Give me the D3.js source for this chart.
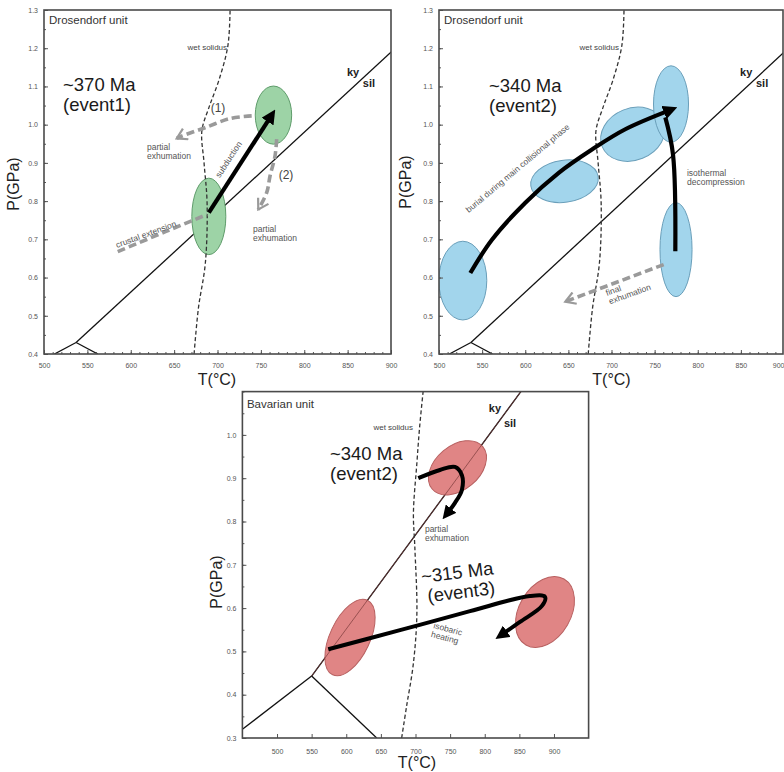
<!DOCTYPE html>
<html><head><meta charset="utf-8">
<script src="https://cdn.jsdelivr.net/npm/d3@7"></script>
<style>body{margin:0;background:#fff}svg{display:block;font-family:"Liberation Sans",Arial,Helvetica,sans-serif}</style>
</head><body><svg id="chart" width="784" height="772"></svg>
<script>
// ---------------- DATA ----------------
const drosTempTicks = [500,550,600,650,700,750,800,850,900];
const drosPressTicks = [0.4,0.5,0.6,0.7,0.8,0.9,1.0,1.1,1.2,1.3];
const bavTempTicks = [500,550,600,650,700,750,800,850,900];
const bavPressTicks = [0.3,0.4,0.5,0.6,0.7,0.8,0.9,1.0];

// wet solidus [T(°C), P(GPa)]
const drosSolidus = [[673,0.40],[678,0.52],[686,0.638],[688,0.795],[684.5,0.90],[682,0.984],[690,1.044],[702,1.119],[712,1.207],[714.5,1.30]];
const bavSolidus = [[680,0.30],[687,0.372],[697,0.473],[702,0.588],[699,0.742],[697,0.819],[702,0.935],[706,1.019],[711,1.10]];

// Al2SiO5 reactions
const drosKySil = [[537,0.43],[905,1.20]];
const drosKyAnd = [[537,0.43],[512,0.40]];
const drosAndSil = [[537,0.43],[562,0.40]];
const bavKySil = [[550,0.443],[860,1.117]];
const bavKyAnd = [[550,0.443],[450,0.32]];
const bavAndSil = [[550,0.443],[644,0.30]];

// P-T ellipses [T, P, halfT, halfP]
const event1Ellipses = [[690,0.76,19.6,0.100],[764.5,1.025,21,0.076]];
const event2DrosEllipses = [[527.6,0.592,27.8,0.103],[645.5,0.852,39.4,0.055],[724.7,0.975,38.3,0.068],[769,1.054,20.3,0.100],[774.8,0.673,18.6,0.123]];
const event2DrosTilt = [0,-8,-22,0,0];
const bavEllipses = [[760.6,0.924,47.7,0.051],[605.4,0.532,28.9,0.095],[887,0.591,37.5,0.088]];
const bavTilt = [-40,25,30];

// P-T paths
const subductionPath = [[690,0.77],[763,1.027]];
const crustalExtensionPath = [[585,0.668],[640,0.72],[688,0.765]];
const exhumation1Path = [[739.4,1.023],[714.4,1.016],[685.6,0.992],[658.7,0.97],[653,0.964]];
const exhumation2Path = [[768.2,0.962],[766.3,0.918],[760.5,0.865],[756.7,0.822],[747,0.778]];
const burialPath = [[536.3,0.612],[561.4,0.699],[600.1,0.796],[638.8,0.874],[677.4,0.935],[716,0.988],[770.1,1.04]];
const decompressionPath = [[762.4,1.019],[771.3,0.922],[774,0.669]];
const finalExhumationPath = [[760.5,0.634],[646.4,0.537]];
const bavEvent2Path = [[704,0.90],[735.3,0.919],[757,0.926],[767,0.907],[767,0.873],[757,0.843],[744,0.815]];
const bavEvent3Path = [[574,0.505],[677.6,0.549],[778.7,0.593],[865.3,0.628],[887,0.626],[882.6,0.605],[850.9,0.568],[822,0.536]];

// ---------------- LAYOUT ----------------
const layout = {
  p1:{left:44, right:391, rightFrame:391, top:10, bottom:354},
  p2:{left:439, right:784, rightFrame:783, top:10, bottom:354},
  p3:{left:242.4, right:588.6, rightFrame:588.6, top:391.6, bottom:738}
};

const svg = d3.select('#chart');
const defs = svg.append('defs');

const mk = defs.append('marker').attr('id','headBlack').attr('viewBox','0 0 10 10')
  .attr('refX',6).attr('refY',5).attr('markerWidth',3.4).attr('markerHeight',3.4).attr('orient','auto');
mk.append('path').attr('d','M0,0L10,5L0,10Z').attr('fill','#000');
const mg = defs.append('marker').attr('id','headGray').attr('viewBox','0 0 14 14')
  .attr('refX',12).attr('refY',7).attr('markerUnits','userSpaceOnUse')
  .attr('markerWidth',14).attr('markerHeight',14).attr('orient','auto');
mg.append('path').attr('d','M2,1L12,7L2,13').attr('fill','none').attr('stroke','#9a9a9a').attr('stroke-width',2.2);

function buildPanel(L, tDom, pDom, clipId){
  const x = d3.scaleLinear().domain(tDom).range([L.left, L.right]);
  const y = d3.scaleLinear().domain(pDom).range([L.bottom, L.top]);
  const g = svg.append('g');
  defs.append('clipPath').attr('id',clipId).append('rect')
    .attr('x',L.left).attr('y',L.top).attr('width',L.rightFrame-L.left).attr('height',L.bottom-L.top);
  const plot = g.append('g').attr('clip-path',`url(#${clipId})`);
  const line = d3.line().x(d=>x(d[0])).y(d=>y(d[1])).curve(d3.curveCatmullRom.alpha(0.5));
  return {x,y,g,plot,L,line};
}

function addAxes(P, tTicks, pTicks, tMinor, pMinor, labelPad){
  const {x,y,L,g} = P;
  const xa = g.append('g').attr('transform',`translate(0,${L.bottom})`)
    .call(d3.axisBottom(x).tickValues(tTicks).tickSize(-4).tickSizeOuter(0).tickPadding(labelPad).tickFormat(d3.format('d')));
  xa.select('.domain').remove();
  // keep a label that sits on the page edge fully visible
  xa.selectAll('.tick text').each(function(d){
    if (x(d) + 6 > 784) d3.select(this).attr('text-anchor','end');
  });
  if (tMinor) { const m = g.append('g').attr('transform',`translate(0,${L.bottom})`)
    .call(d3.axisBottom(x).tickValues(tMinor).tickSize(-2).tickSizeOuter(0).tickFormat(''));
    m.select('.domain').remove(); m.attr('color','#555'); }
  const ya = g.append('g').attr('transform',`translate(${L.left},0)`)
    .call(d3.axisLeft(y).tickValues(pTicks).tickSize(-4).tickSizeOuter(0).tickPadding(6).tickFormat(d3.format('.1f')));
  ya.select('.domain').remove();
  if (pMinor) { const m = g.append('g').attr('transform',`translate(${L.left},0)`)
    .call(d3.axisLeft(y).tickValues(pMinor).tickSize(-2).tickSizeOuter(0).tickFormat(''));
    m.select('.domain').remove(); m.attr('color','#555'); }
  [xa,ya].forEach(a=>{a.attr('color','#555').attr('font-family',null).attr('font-size',7);
    a.selectAll('text').attr('fill','#555');});
  g.append('rect').attr('x',L.left).attr('y',L.top).attr('width',L.rightFrame-L.left).attr('height',L.bottom-L.top)
    .attr('fill','none').attr('stroke','#4a4a4a').attr('stroke-width',1.6);
}

function drawReactions(P, ks, ka, as){
  [ks,ka,as].forEach(d=>P.plot.append('path').attr('d',d3.line().x(v=>P.x(v[0])).y(v=>P.y(v[1]))(d))
    .attr('fill','none').attr('stroke','#111').attr('stroke-width',1.3));
}
function drawSolidus(P, s){
  P.plot.append('path').attr('d',P.line(s)).attr('fill','none').attr('stroke','#333')
    .attr('stroke-width',1.3).attr('stroke-dasharray','4,2.5');
}
function drawEllipses(P, list, tilts, fill, stroke){
  P.plot.selectAll(null).data(list).join('ellipse')
    .attr('transform',(d,i)=>`translate(${P.x(d[0])},${P.y(d[1])}) rotate(${tilts?tilts[i]:0})`)
    .attr('rx',d=>P.x(d[0]+d[2])-P.x(d[0]))
    .attr('ry',d=>P.y(d[1]-d[3])-P.y(d[1]))
    .attr('fill',fill).attr('stroke',stroke).attr('stroke-width',1);
}
function blackArrow(P, pts, w){
  P.plot.append('path').attr('d',P.line(pts)).attr('fill','none').attr('stroke','#000')
    .attr('stroke-width',w||4).attr('marker-end','url(#headBlack)');
}
function blackLine(P, pts, w){
  P.plot.append('path').attr('d',P.line(pts)).attr('fill','none').attr('stroke','#000').attr('stroke-width',w||4);
}
function grayArrow(P, pts, head){
  const p = P.plot.append('path').attr('d',P.line(pts)).attr('fill','none').attr('stroke','#9a9a9a')
    .attr('stroke-width',3.6).attr('stroke-dasharray','8,4');
  if(head) p.attr('marker-end','url(#headGray)');
}
function label(P, T, Pv, lines, o){
  o = o||{};
  const t = P.g.append('g')
    .attr('transform',`translate(${P.x(T)},${P.y(Pv)}) rotate(${o.rot||0})`)
    .attr('font-size',o.size||9).attr('fill',o.fill||'#333')
    .attr('font-weight',o.bold?'bold':null)
    .attr('text-anchor',o.anchor||'start');
  lines.forEach((s,i)=>t.append('text').attr('x',(o.dx&&o.dx[i])||0).attr('y',i*(o.lh||9)).text(s));
  return t;
}

// ---------------- PANEL 1 ----------------
const P1 = buildPanel(layout.p1,[500,900],[0.4,1.3],'clip1');
drawReactions(P1, drosKySil, drosKyAnd, drosAndSil);
drawEllipses(P1, event1Ellipses, null, '#9dd3a6', '#5f9c6b');
drawSolidus(P1, drosSolidus);
grayArrow(P1, crustalExtensionPath, false);
grayArrow(P1, exhumation1Path, true);
grayArrow(P1, exhumation2Path, true);
blackArrow(P1, subductionPath, 4.2);
addAxes(P1, drosTempTicks, drosPressTicks, d3.range(500,901,10), d3.range(0.4,1.31,0.05), 9);
P1.g.append('text').attr('x',layout.p1.left+5).attr('y',layout.p1.top+14).attr('font-size',11.5).attr('fill','#333').text('Drosendorf unit');
label(P1, 521.9, 1.088, ['~370 Ma','(event1)'], {size:18.5, lh:20, fill:'#1a1a1a'});
label(P1, 711, 1.195, ['wet solidus'], {size:8, anchor:'end', fill:'#444'});
label(P1, 856.2, 1.127, ['ky'], {size:11, bold:true, anchor:'middle', fill:'#222'});
label(P1, 874.6, 1.099, ['sil'], {size:11, bold:true, anchor:'middle', fill:'#222'});
label(P1, 715.6, 0.905, ['subduction'], {size:8.5, rot:-57, anchor:'middle', fill:'#555'});
label(P1, 618.7, 0.706, ['crustal extension'], {size:8.5, rot:-20, anchor:'middle', fill:'#555'});
label(P1, 700.6, 1.033, ['(1)'], {size:12, anchor:'middle', fill:'#444'});
label(P1, 779, 0.858, ['(2)'], {size:12, anchor:'middle', fill:'#444'});
label(P1, 618.7, 0.934, ['partial','exhumation'], {size:8.5, fill:'#555'});
label(P1, 741, 0.719, ['partial','exhumation'], {size:8.5, fill:'#555'});
P1.g.append('text').attr('transform','translate(19,184) rotate(-90)').attr('text-anchor','middle').attr('font-size',16).attr('fill','#222').text('P(GPa)');
P1.g.append('text').attr('x',217).attr('y',385).attr('text-anchor','middle').attr('font-size',16).attr('fill','#222').text('T(°C)');

// ---------------- PANEL 2 ----------------
const P2 = buildPanel(layout.p2,[500,900],[0.4,1.3],'clip2');
drawReactions(P2, drosKySil, drosKyAnd, drosAndSil);
drawEllipses(P2, event2DrosEllipses, event2DrosTilt, '#a2d5ec', '#6a9fba');
drawSolidus(P2, drosSolidus);
grayArrow(P2, finalExhumationPath, true);
blackArrow(P2, burialPath, 4.2);
blackLine(P2, decompressionPath, 4.2);
addAxes(P2, drosTempTicks, drosPressTicks, d3.range(500,901,10), d3.range(0.4,1.31,0.05), 9);
P2.g.append('text').attr('x',layout.p2.left+5).attr('y',layout.p2.top+14).attr('font-size',11.5).attr('fill','#333').text('Drosendorf unit');
label(P2, 558, 1.085, ['~340 Ma','(event2)'], {size:18.5, lh:20, fill:'#1a1a1a'});
label(P2, 708.7, 1.195, ['wet solidus'], {size:8, anchor:'end', fill:'#444'});
label(P2, 856.2, 1.127, ['ky'], {size:11, bold:true, anchor:'middle', fill:'#222'});
label(P2, 874.6, 1.099, ['sil'], {size:11, bold:true, anchor:'middle', fill:'#222'});
label(P2, 593.3, 0.880, ['burial during main collisional phase'], {size:8.5, rot:-40, anchor:'middle', fill:'#555'});
label(P2, 787.5, 0.866, ['isothermal','decompression'], {size:8.5, fill:'#555'});
label(P2, 694.8, 0.552, ['final','exhumation'], {size:8.5, rot:-20, fill:'#555'});
P2.g.append('text').attr('transform','translate(411,182) rotate(-90)').attr('text-anchor','middle').attr('font-size',16).attr('fill','#222').text('P(GPa)');
P2.g.append('text').attr('x',611.5).attr('y',385).attr('text-anchor','middle').attr('font-size',16).attr('fill','#222').text('T(°C)');

// ---------------- PANEL 3 ----------------
const P3 = buildPanel(layout.p3,[450,950],[0.3,1.1],'clip3');
drawReactions(P3, bavKySil, bavKyAnd, bavAndSil);
drawEllipses(P3, bavEllipses, bavTilt, '#e08585', '#b86060');
P3.plot.append('path').attr('d',d3.line().x(v=>P3.x(v[0])).y(v=>P3.y(v[1]))(bavKySil))
  .attr('fill','none').attr('stroke','#7a3a3a').attr('stroke-width',1).attr('opacity',0.7);
drawSolidus(P3, bavSolidus);
blackArrow(P3, bavEvent2Path, 4);
blackArrow(P3, bavEvent3Path, 4);
addAxes(P3, bavTempTicks, bavPressTicks, null, d3.range(0.3,1.11,0.05), 11);
P3.g.append('text').attr('x',layout.p3.left+4.5).attr('y',layout.p3.top+16).attr('font-size',11.5).attr('fill','#333').text('Bavarian unit');
label(P3, 696.4, 1.011, ['wet solidus'], {size:8, anchor:'end', fill:'#444'});
label(P3, 814.8, 1.053, ['ky'], {size:11, bold:true, anchor:'middle', fill:'#222'});
label(P3, 836.5, 1.018, ['sil'], {size:11, bold:true, anchor:'middle', fill:'#222'});
label(P3, 576.5, 0.942, ['~340 Ma','(event2)'], {size:18.5, lh:20, fill:'#1a1a1a'});
label(P3, 713.6, 0.776, ['partial','exhumation'], {size:8.5, fill:'#555'});
label(P3, 709.3, 0.658, ['~315 Ma','(event3)'], {size:18.5, lh:20, rot:-7, dx:[0,4], fill:'#1a1a1a'});
label(P3, 725.2, 0.554, ['isobaric','heating'], {size:8.5, rot:15, fill:'#555'});
P3.g.append('text').attr('transform','translate(221.5,582) rotate(-90)').attr('text-anchor','middle').attr('font-size',16).attr('fill','#222').text('P(GPa)');
P3.g.append('text').attr('x',417).attr('y',768).attr('text-anchor','middle').attr('font-size',16).attr('fill','#222').text('T(°C)');
</script></body></html>
